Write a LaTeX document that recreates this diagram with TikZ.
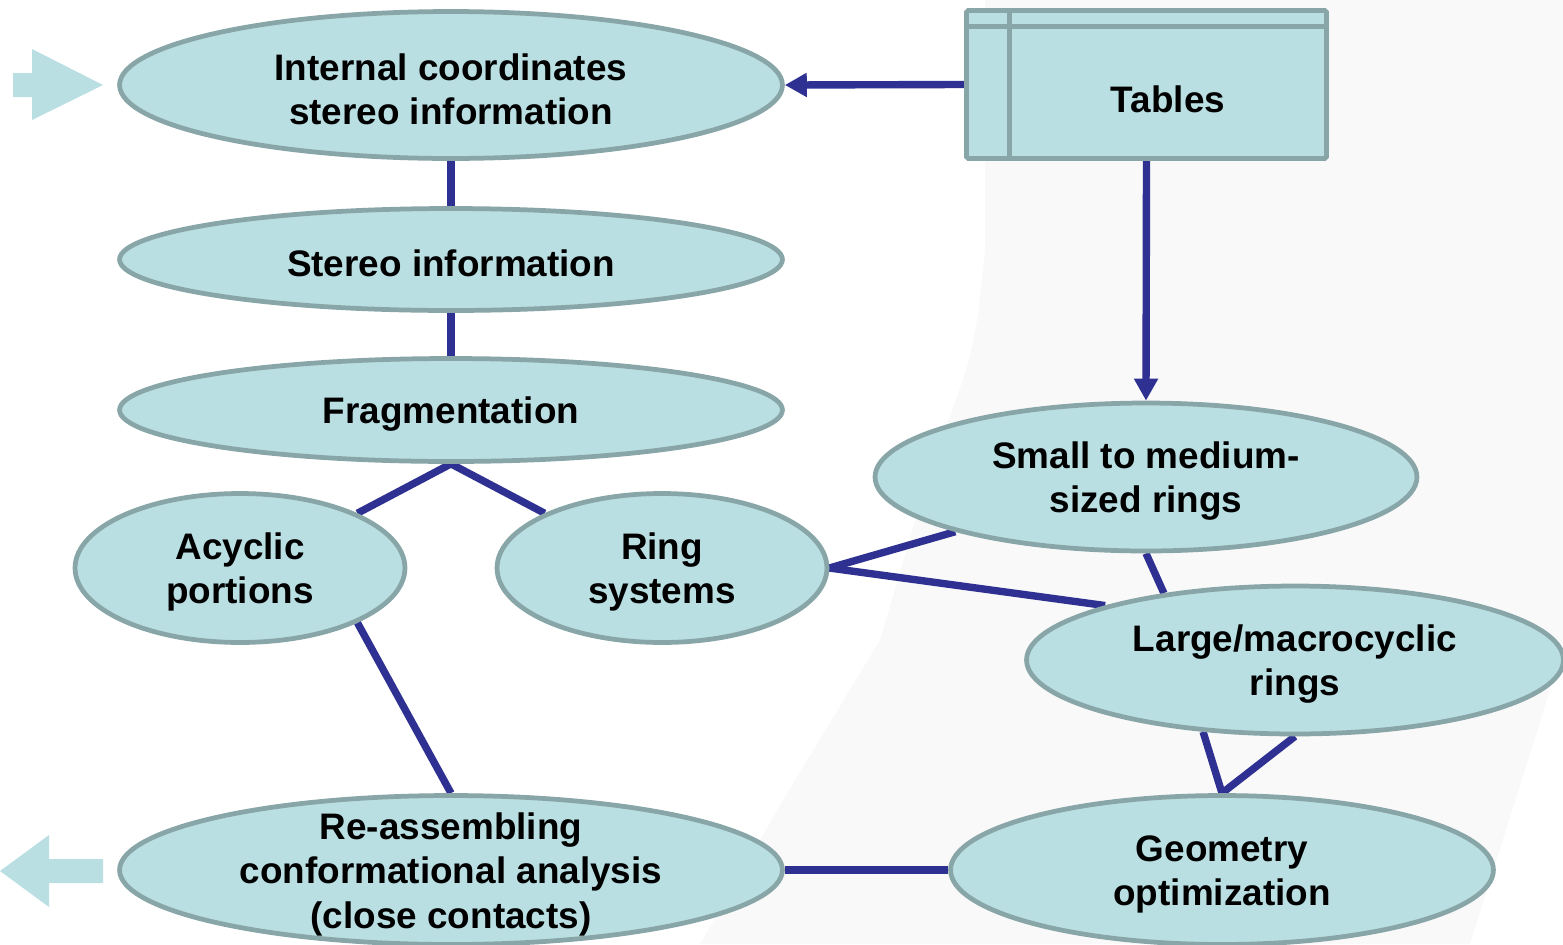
\documentclass[tikz,border=0pt]{standalone}
\usepackage{fontspec}
\setmainfont{Liberation Sans}
\usetikzlibrary{shapes.geometric}
\usetikzlibrary{arrows.meta}
\usetikzlibrary{calc}
\definecolor{blobfill}{HTML}{B9DFE3}
\definecolor{blobline}{HTML}{88A5A7}
\definecolor{linkcol}{HTML}{2E3192}
\definecolor{backgrey}{HTML}{F9F9F9}
\pgfdeclarelayer{backdrop}
\pgfdeclarelayer{background}
\pgfsetlayers{backdrop,background,main}

\begin{document}
\begin{tikzpicture}[x=0.02cm,y=-0.02cm,
  blob/.style={ellipse,draw=blobline,fill=blobfill,line width=2.7pt,inner sep=0pt},
  txt/.style={align=center,yshift=-2.4pt,font=\bfseries\fontsize{21}{25.2}\selectfont},
  link/.style={draw=linkcol,line width=4.2pt},
  tip/.style={-{Triangle[length=12.5pt,width=13pt]}}]
\clip (0,0) rectangle (1563,944);
\useasboundingbox (0,0) rectangle (1563,944);
% the grey slide backdrop
\begin{pgfonlayer}{backdrop}
\fill[backgrey] (985,0) -- (985,250) .. controls (975,350) .. (930,470)
  -- (880,640) -- (783,800) -- (700,944) -- (1470,944) -- (1547,700)
  -- (1563,640) -- (1563,0) -- cycle;
\end{pgfonlayer}
% in and out arrows
\begin{scope}[blobfill]
\fill (13,73) -- (32,73) -- (32,49) -- (103,85) -- (32,120) -- (32,97) -- (13,97) -- cycle;
\fill (103,859) -- (49,859) -- (49,835) -- (0,871) -- (49,907) -- (49,883) -- (103,883) -- cycle;
\end{scope}
% left column
\node[blob,minimum width=13.26cm,minimum height=2.94cm] (int) at (451,85) {};
\node[blob,minimum width=13.26cm,minimum height=2.04cm] (ste) at (451,259.5) {};
\node[blob,minimum width=13.26cm,minimum height=2.06cm] (frg) at (451,410) {};
\node[blob,minimum width=6.6cm,minimum height=2.98cm] (acy) at (240,568) {};
\node[blob,minimum width=6.6cm,minimum height=2.98cm] (rng) at (662,568) {};
\node[blob,minimum width=13.26cm,minimum height=2.98cm] (rea) at (451,870) {};
% right column
\node[rectangle,draw=blobline,fill=blobfill,line width=2.7pt,rounded corners=1pt,
  minimum width=7.2cm,minimum height=2.96cm] (tbl) at (1146.5,84.5) {};
\draw[blobline,line width=2.7pt] ($(tbl.north west)+(45,0)$) -- ($(tbl.south west)+(45,0)$);
\draw[blobline,line width=2.7pt] ($(tbl.north west)+(0,18)$) -- ($(tbl.north east)+(0,18)$);
\node[blob,minimum width=10.84cm,minimum height=2.96cm] (sml) at (1146,477) {};
\node[blob,minimum width=10.74cm,minimum height=2.96cm] (lrg) at (1295,660) {};
\node[blob,minimum width=10.86cm,minimum height=2.98cm] (geo) at (1222,870) {};
% texts
\node[txt] (int-t) at (int) {Internal coordinates\\stereo information};
\node[txt] (ste-t) at (ste) {Stereo information};
\node[txt] (frg-t) at (frg) {Fragmentation};
\node[txt] (acy-t) at (acy) {Acyclic\\portions};
\node[txt] (rng-t) at (rng) {Ring\\systems};
\node[txt] (rea-t) at (rea) {Re-assembling\\conformational analysis\\(close contacts)};
\node[txt] (tbl-t) at (1168,95) {Tables};
\node[txt] (sml-t) at (sml) {Small to medium-\\sized rings};
\node[txt] (lrg-t) at (lrg) {Large/macrocyclic\\rings};
\node[txt] (geo-t) at (geo) {Geometry\\optimization};
% connectors
\begin{pgfonlayer}{background}
\draw[link,tip] (tbl.west) -- (int.east);
\draw[link,tip] (tbl.south) -- (sml.north);
\draw[link] (int.south) -- (ste.north);
\draw[link] (ste.south) -- (frg.north);
\draw[link] (frg.south) -- (acy.25);
\draw[link] (frg.south) -- (rng.155);
\draw[link] (acy.-25) -- (rea.north);
\draw[link] (rng.east) -- (sml.196);
\draw[link] (rng.east) -- (lrg.164);
\draw[link] (sml.south) -- (lrg.153);
\draw[link] (lrg.218) -- (geo.north);
\draw[link] (lrg.south) -- (geo.north);
\draw[link] (rea.east) -- (geo.west);
\end{pgfonlayer}
\end{tikzpicture}
\end{document}
